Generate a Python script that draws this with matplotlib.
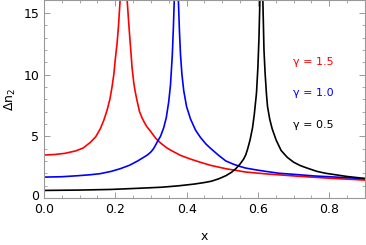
import matplotlib
matplotlib.use('Agg')
import matplotlib.pyplot as plt
import matplotlib.transforms as mtransforms
from matplotlib.ticker import MultipleLocator

# values
x_red = [0.0, 0.03, 0.06, 0.09, 0.11, 0.13, 0.145, 0.158, 0.168, 0.177, 0.185,
         0.191, 0.196, 0.2, 0.205, 0.209, 0.214, 0.2235,
         0.233, 0.237, 0.240, 0.244, 0.247, 0.252, 0.256, 0.261, 0.268, 0.275,
         0.282, 0.289, 0.299, 0.313, 0.327, 0.345, 0.36, 0.383, 0.411, 0.44,
         0.468, 0.51, 0.566, 0.623, 0.707, 0.80, 0.9]
y_red = [3.48, 3.52, 3.62, 3.82, 4.05, 4.5, 4.95, 5.6, 6.3, 7.1, 8.0,
         9.0, 10.0, 11.2, 12.5, 13.9, 16.2, 60,
         16.2, 14.5, 13.3, 11.8, 10.6, 9.3, 8.6, 7.9, 7.0, 6.5,
         6.1, 5.76, 5.4, 4.85, 4.45, 4.05, 3.8, 3.45, 3.15, 2.88,
         2.64, 2.37, 2.1, 1.95, 1.77, 1.6, 1.45]

x_blue = [0.0, 0.05, 0.094, 0.13, 0.158, 0.188, 0.214, 0.24, 0.263, 0.28, 0.29,
          0.299, 0.305, 0.31, 0.317, 0.327, 0.336, 0.343, 0.35, 0.355, 0.36, 0.363,
          0.366, 0.371, 0.3765, 0.380, 0.383, 0.387, 0.392, 0.40, 0.411, 0.425,
          0.439, 0.455, 0.468, 0.49, 0.51, 0.53, 0.55, 0.566, 0.6, 0.623, 0.66,
          0.707, 0.76, 0.80, 0.85, 0.9]
y_blue = [1.69, 1.72, 1.8, 1.88, 1.97, 2.15, 2.37, 2.65, 3.0, 3.3, 3.48,
          3.7, 3.9, 4.12, 4.5, 5.0, 5.7, 6.5, 7.8, 9.2, 11.6, 13.8,
          16.5, 60, 16.5, 13.5, 11.6, 10.0, 8.7, 7.4, 6.4, 5.5,
          4.9, 4.35, 4.0, 3.45, 3.0, 2.75, 2.55, 2.42, 2.25, 2.15, 2.0,
          1.9, 1.78, 1.72, 1.64, 1.56]

x_black = [0.0, 0.1, 0.188, 0.27, 0.33, 0.376, 0.42, 0.45, 0.47, 0.49, 0.51,
           0.526, 0.538, 0.55, 0.56, 0.566, 0.571, 0.578, 0.585, 0.59, 0.596,
           0.60, 0.603, 0.606, 0.61, 0.6135, 0.617, 0.620, 0.624, 0.627, 0.633,
           0.64, 0.651, 0.665, 0.682, 0.70, 0.719, 0.74, 0.766, 0.79, 0.813,
           0.85, 0.9]
y_black = [0.61, 0.64, 0.69, 0.79, 0.87, 0.98, 1.12, 1.25, 1.36, 1.55, 1.8,
           2.08, 2.37, 2.75, 3.15, 3.5, 3.95, 4.7, 5.7, 6.8, 8.5,
           10.6, 13.0, 16.5, 60, 16.5, 12.0, 10.2, 8.4, 7.4, 6.4,
           5.6, 4.7, 3.85, 3.3, 2.9, 2.62, 2.4, 2.15, 2.0, 1.9,
           1.74, 1.58]

labels = ['γ = 1.5', 'γ = 1.0', 'γ = 0.5']
colors = ['red', 'blue', 'black']

fig = plt.figure(figsize=(3.66, 2.45), dpi=100)
ax = fig.add_axes([0.12, 0.192, 0.877, 0.806])

for xs, ys, c in zip([x_red, x_blue, x_black], [y_red, y_blue, y_black], colors):
    ax.plot(xs, ys, color=c, lw=1.2)

# curve labels
for lab, c, yy in zip(labels, colors, [11.0, 8.5, 5.95]):
    ax.text(0.697, yy, lab, color=c, fontsize=8, va='center', ha='left')

ax.set_xlim(0, 0.9)
ax.set_ylim(0, 16)
ax.xaxis.set_major_locator(MultipleLocator(0.2))
ax.xaxis.set_minor_locator(MultipleLocator(0.05))
ax.yaxis.set_major_locator(MultipleLocator(5))
ax.yaxis.set_minor_locator(MultipleLocator(1))
ax.tick_params(which='both', direction='in', top=True, right=True,
               color='#999999', labelsize=9)
ax.tick_params(which='major', length=4, width=0.7)
ax.tick_params(which='minor', length=2, width=0.6)
ax.set_xticks([0.0, 0.2, 0.4, 0.6, 0.8])
ax.set_xticklabels(['0.0', '0.2', '0.4', '0.6', '0.8'])
ax.set_yticks([0, 5, 10, 15])
for s in ax.spines.values():
    s.set_color('#999999')
    s.set_linewidth(0.8)

# lift the "0" on the y axis a little, as in the reference
fig.canvas.draw()
lab0 = ax.get_yticklabels()[0]
lab0.set_transform(lab0.get_transform() +
                   mtransforms.ScaledTranslation(0, 3 / 100, fig.dpi_scale_trans))

ax.set_xlabel('x', fontsize=9, labelpad=10)
ax.set_ylabel('Δn$_2$', fontsize=9, labelpad=4)

fig.savefig('out.png', dpi=100)
